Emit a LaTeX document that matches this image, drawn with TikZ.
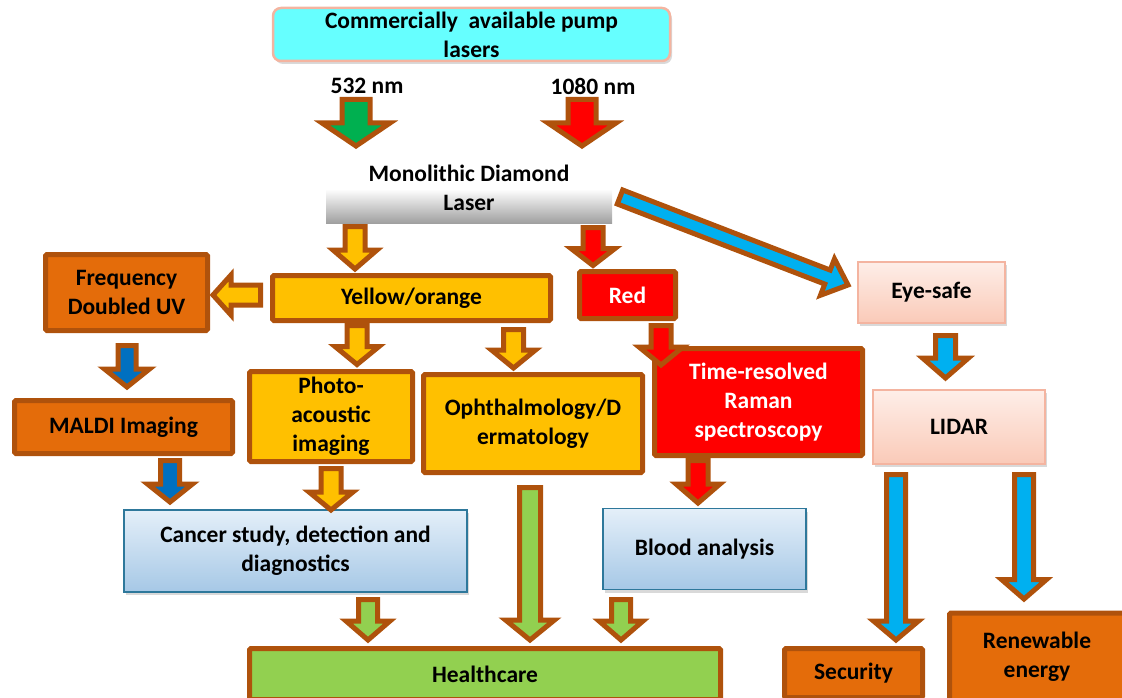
\documentclass[tikz,border=0pt]{standalone}
\usepackage{fontspec}
\setmainfont{Carlito}
\usetikzlibrary{calc,shadows}
\definecolor{brn}{RGB}{175,82,12}
\definecolor{org}{RGB}{228,108,10}
\definecolor{yel}{RGB}{255,192,0}
\definecolor{grn}{RGB}{146,208,80}
\definecolor{dgrn}{RGB}{0,176,80}
\definecolor{blu}{RGB}{0,112,192}
\definecolor{cyb}{RGB}{0,176,240}
\definecolor{cya}{RGB}{102,255,255}
\definecolor{salm}{RGB}{244,180,160}
\definecolor{pinkt}{RGB}{254,238,232}
\definecolor{pinkb}{RGB}{250,202,184}
\definecolor{bluet}{RGB}{228,239,249}
\definecolor{blueb}{RGB}{166,200,230}
\definecolor{tealb}{RGB}{46,120,155}
\definecolor{grayb}{RGB}{160,160,160}
\tikzset{
  base/.style={font=\fontsize{23.5}{29}\selectfont\bfseries, align=center, inner sep=0pt, outer sep=0pt},
  bbox/.style={base, draw=brn, line width=5pt, rounded corners=1.5pt},
  obox/.style={bbox, fill=org},
  ybox/.style={bbox, fill=yel},
  rbox/.style={bbox, fill=red, text=white},
  gbox/.style={bbox, fill=grn},
  softshadow/.style={drop shadow={opacity=0.3, shadow xshift=2pt, shadow yshift=-3pt}},
  pbox/.style={base, draw=salm, line width=1.5pt, top color=pinkt, bottom color=pinkb, softshadow},
  lbbox/.style={base, draw=tealb, line width=1.5pt, top color=bluet, bottom color=blueb, softshadow},
  topbox/.style={base, draw=salm, line width=2.5pt, fill=cya, rounded corners=8pt, softshadow},
  lbl/.style={base},
  barrow/.style={draw=brn, line width=5pt, line join=miter, miter limit=10},
}
% block arrow: #1 fill, #2 start, #3 tip, #4 body half width, #5 head half width, #6 head length
\newcommand\blockarr[6]{%
  \coordinate (ba-s) at (#2);
  \coordinate (ba-e) at (#3);
  \coordinate (ba-h) at ($(ba-e)!#6!(ba-s)$);
  \draw[barrow, fill=#1] ($(ba-s)!#4!90:(ba-e)$) -- ($(ba-h)!#4!90:(ba-e)$) -- ($(ba-h)!#5!90:(ba-e)$) -- (ba-e) -- ($(ba-h)!#5!-90:(ba-e)$) -- ($(ba-h)!#4!-90:(ba-e)$) -- ($(ba-s)!#4!-90:(ba-e)$) -- cycle;}
\begin{document}
\begin{tikzpicture}[x=1pt, y=-1pt]
\useasboundingbox (0,0) rectangle (1122,698);

% top
\node[topbox, minimum width=397, minimum height=53] (pump) at (471.5,34.5) {Commercially\ \ available pump\\lasers};
\node[lbl] (l532) at (367,86) {532 nm};
\node[lbl] (l1080) at (593,86) {1080 nm};

% diamond laser
\node[base, minimum width=286, minimum height=34, top color=white, bottom color=grayb] (laser) at (469,206) {};
\node[lbl] (lasert) at (469,188) {Monolithic Diamond\\Laser};

% boxes
\node[obox, minimum width=162, minimum height=76] (freq) at (126.5,292.5) {Frequency\\Doubled UV};
\node[obox, minimum width=218, minimum height=53] (maldi) at (123.5,427) {MALDI Imaging};
\node[ybox, minimum width=278, minimum height=45] (yo) at (411.5,298) {Yellow/orange};
\node[rbox, minimum width=96, minimum height=47] (red) at (627.5,295) {Red};
\node[ybox, minimum width=163, minimum height=90] (photo) at (331,416.5) {Photo-\\acoustic\\imaging};
\node[ybox, minimum width=219, minimum height=98] (ophth) at (533,423.5) {Ophthalmology/D\\ermatology};
\node[rbox, minimum width=208, minimum height=107] (time) at (758.5,402) {Time-resolved\\Raman\\spectroscopy};
\node[pbox, minimum width=147, minimum height=61] (eye) at (931.5,292.5) {Eye-safe};
\node[pbox, minimum width=172, minimum height=74] (lidar) at (959,427) {LIDAR};
\node[lbbox, minimum width=343, minimum height=82] (cancer) at (295.5,551) {Cancer study, detection and\\diagnostics};
\node[lbbox, minimum width=203, minimum height=81] (blood) at (704.5,549) {Blood analysis};
\node[gbox, minimum width=471, minimum height=51] (health) at (485,674) {Healthcare};
\node[obox, minimum width=138, minimum height=49] (security) at (853.5,673) {Security};
\node[obox, minimum width=175, minimum height=88] (renew) at (1037,657) {Renewable\\energy};

% arrows
\blockarr{dgrn}{356,99.5}{356,146}{14pt}{34pt}{23pt}
\blockarr{red}{582,99.5}{582,146}{14pt}{34pt}{23pt}
\blockarr{yel}{355,226.5}{355,269}{10pt}{22pt}{19pt}
\blockarr{red}{593,227.5}{593,265.5}{10pt}{22pt}{17pt}
\blockarr{cyb}{620,197}{848,285}{7.5pt}{19.5pt}{22pt}
\blockarr{yel}{260.5,295}{213,295}{10pt}{20pt}{18pt}
\blockarr{yel}{357,325.5}{357,364.5}{10pt}{22pt}{18pt}
\blockarr{yel}{513.5,329.5}{513.5,368}{10pt}{22pt}{18pt}
\blockarr{blu}{127,345.5}{127,387}{9pt}{22.5pt}{18pt}
\blockarr{blu}{170,460.5}{170,502}{9.5pt}{22.5pt}{18pt}
\blockarr{yel}{331,468.5}{331,510}{10pt}{22pt}{18pt}
\blockarr{red}{661,325.5}{661,365}{10pt}{22pt}{18pt}
\blockarr{red}{698,460.5}{698,503}{10pt}{22pt}{19pt}
\blockarr{cyb}{945.5,335.5}{945.5,378}{10pt}{23pt}{20pt}
\blockarr{cyb}{896,474.5}{896,640}{9.5pt}{22.5pt}{19pt}
\blockarr{cyb}{1024,474.5}{1024,599}{9.5pt}{22.5pt}{19.5pt}
\blockarr{grn}{368,599.5}{368,640}{9.5pt}{22pt}{19pt}
\blockarr{grn}{530,487.5}{530,640}{10.5pt}{24.5pt}{20pt}
\blockarr{grn}{621,599.5}{621,640}{9.5pt}{22pt}{19pt}
\end{tikzpicture}
\end{document}
